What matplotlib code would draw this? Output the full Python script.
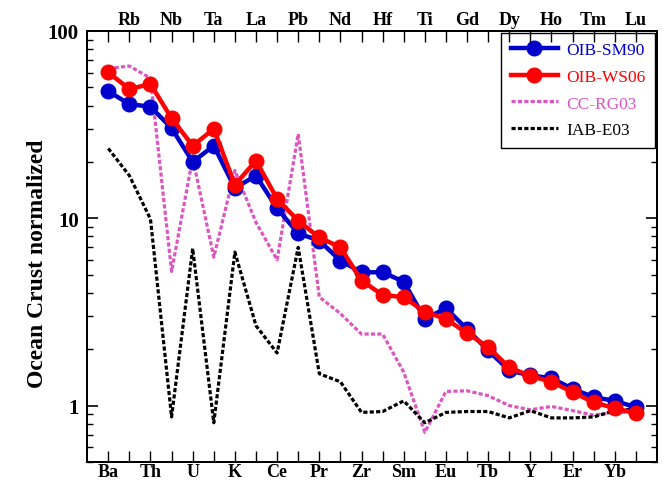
import matplotlib
matplotlib.use("Agg")
import matplotlib.pyplot as plt

elements = ["Ba", "Rb", "Th", "Nb", "U", "Ta", "K", "La", "Ce", "Pb", "Pr", "Nd", "Zr",
            "Hf", "Sm", "Ti", "Eu", "Gd", "Tb", "Dy", "Y", "Ho", "Er", "Tm", "Yb", "Lu"]

oib_sm90 = [47.6, 40.7, 39.4, 30.3, 20.0, 24.4, 14.5, 16.9, 11.3, 8.3, 7.6, 5.94, 5.15,
            5.15, 4.59, 2.9, 3.31, 2.56, 1.97, 1.54, 1.45, 1.4, 1.23, 1.11, 1.06, 0.98]
oib_ws06 = [60.1, 49.0, 52.1, 34.2, 24.4, 30.0, 15.1, 20.3, 12.7, 9.7, 7.9, 7.0, 4.65,
            3.9, 3.79, 3.17, 2.9, 2.44, 2.05, 1.6, 1.44, 1.34, 1.18, 1.04, 0.97, 0.91]
cc_rg03 = [63.0, 65.0, 56.0, 5.2, 21.0, 6.2, 18.0, 9.5, 6.0, 28.2, 3.8, 3.1, 2.41,
           2.41, 1.51, 0.72, 1.19, 1.2, 1.13, 1.0, 0.95, 0.99, 0.94, 0.89, 0.92, 0.92]
iab_e03 = [23.6, 16.9, 9.9, 0.87, 6.9, 0.81, 6.6, 2.67, 1.91, 7.0, 1.48, 1.34, 0.92,
           0.93, 1.06, 0.81, 0.92, 0.93, 0.93, 0.86, 0.94, 0.86, 0.86, 0.87, 0.94, 0.96]

plt.rcParams["font.family"] = ["Liberation Serif", "DejaVu Serif"]

x = list(range(1, len(elements) + 1))

fig = plt.figure(figsize=(6.69, 4.81), dpi=100)
ax = fig.add_axes([0.1303, 0.0374, 0.8517, 0.8961])

ax.plot(x, cc_rg03, color="#dd55c0", lw=2.3, dashes=(1.3, 0.7), label="CC-RG03", zorder=2)
ax.plot(x, iab_e03, color="black", lw=2.3, dashes=(1.3, 0.7), label="IAB-E03", zorder=2)
ax.plot(x, oib_sm90, color="#0000cc", lw=3.2, marker="o", ms=10.5, label="OIB-SM90", zorder=3)
ax.plot(x, oib_ws06, color="#ff0000", lw=3.2, marker="o", ms=10.5, label="OIB-WS06", zorder=4)

ax.set_yscale("log")
ax.set_ylim(0.5, 100)
ax.set_xlim(0, 27)
ax.set_yticks([1, 10, 100])
ax.set_yticklabels(["1", "10", "100"], fontsize=15, fontweight="bold")
ax.tick_params(axis="y", which="major", direction="in", length=8, width=1.2, right=True, pad=6)
ax.tick_params(axis="y", which="minor", direction="in", length=4.5, width=1.0, right=True)

ax.set_xticks(x)
ax.set_xticklabels([e if i % 2 == 0 else "" for i, e in enumerate(elements)],
                   fontsize=13, fontweight="bold")
ax.tick_params(axis="x", direction="in", length=8, width=1.0, top=True, pad=1)

ax2 = ax.twiny()
ax2.set_xlim(ax.get_xlim())
ax2.set_xticks(x)
ax2.set_xticklabels([e if i % 2 == 1 else "" for i, e in enumerate(elements)],
                    fontsize=13, fontweight="bold")
ax2.tick_params(axis="x", direction="in", length=8, width=1.0, pad=2)

for a in (ax, ax2):
    for s in a.spines.values():
        s.set_linewidth(1.3)

ax.set_ylabel("Ocean Crust normalized", fontsize=17, fontweight="bold")
ax.yaxis.set_label_coords(-0.068, 0.462)

handles, labels = ax.get_legend_handles_labels()
order = [2, 3, 0, 1]
leg = ax.legend([handles[i] for i in order], [labels[i] for i in order],
                loc="upper right", fontsize=12.5, frameon=True, fancybox=False,
                edgecolor="black", framealpha=1, handlelength=2.7, handletextpad=0.5,
                borderaxespad=0.1, labelspacing=0.6, borderpad=0.55)
leg.get_frame().set_linewidth(1.0)
for t, c in zip(leg.get_texts(), ["#0000cc", "#ff0000", "#dd55c0", "black"]):
    t.set_color(c)

fig.savefig("out.png", dpi=100)
